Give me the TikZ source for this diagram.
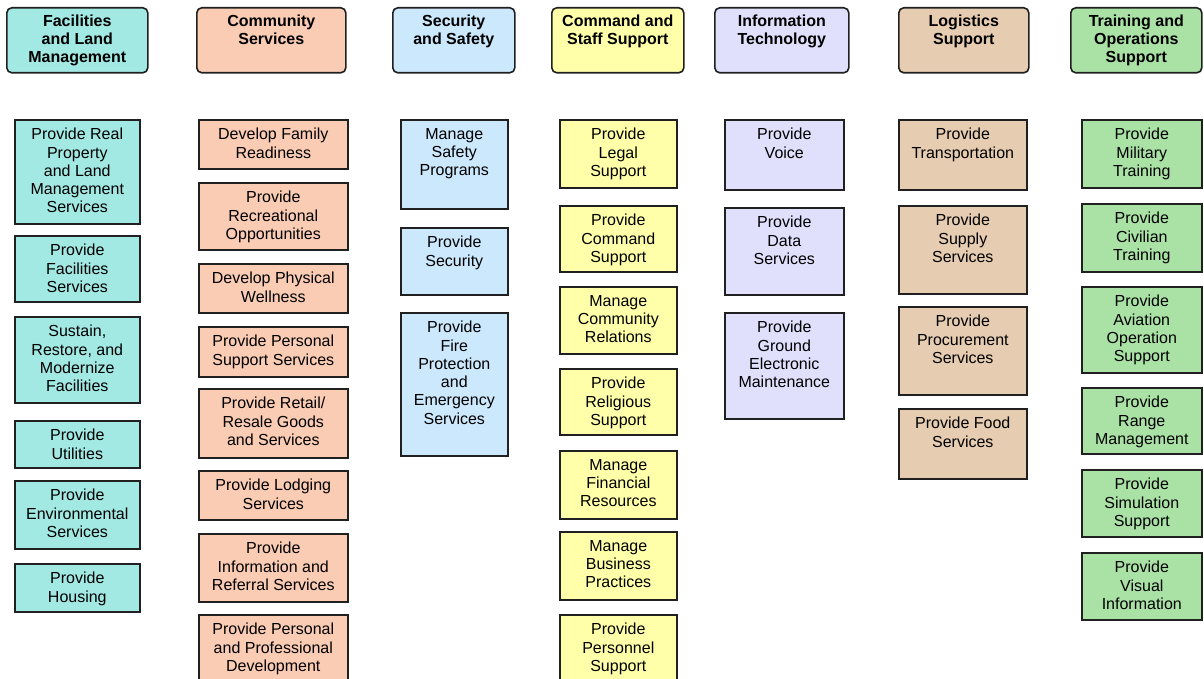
\documentclass[tikz,border=0pt]{standalone}
\usepackage{fontspec}
\setmainfont{Liberation Sans}
\usepackage{xcolor}

\definecolor{facfill}{RGB}{162,233,228}
\definecolor{comfill}{RGB}{251,204,180}
\definecolor{secfill}{RGB}{204,232,252}
\definecolor{cmdfill}{RGB}{255,255,170}
\definecolor{itfill}{RGB}{224,224,252}
\definecolor{logfill}{RGB}{230,204,176}
\definecolor{trnfill}{RGB}{170,226,166}
\definecolor{boxline}{RGB}{32,32,32}

\tikzset{
  hdr/.style={draw=boxline, line width=1.6pt, rounded corners=5pt, anchor=north west, inner sep=0pt},
  svc/.style={draw=boxline, line width=1.6pt, anchor=north west, inner sep=0pt},
  hdrtext/.style={anchor=north, align=center, inner sep=0pt, font=\bfseries\fontsize{16}{18}\selectfont},
  svctext/.style={anchor=north, align=center, inner sep=0pt, font=\fontsize{16}{18.3}\selectfont},
}

\begin{document}
\begin{tikzpicture}[x=1pt, y=-1pt]
        \useasboundingbox (0,0) rectangle (1204,679);
        \clip (0,0) rectangle (1204,679);
        % Column headers
        \foreach \nm/\xa/\xb/\col/\txt in {fac/6/147/facfill/{Facilities\\and Land\\Management},
                com/196/345/comfill/{Community\\Services},
                sec/392/514/secfill/{Security\\and Safety},
                cmd/551/683/cmdfill/{Command and\\Staff Support},
                it/714/848/itfill/{Information\\Technology},
                log/898/1028/logfill/{Logistics\\Support},
                trn/1070/1201/trnfill/{Training and\\Operations\\Support}} {
            \node[hdr, fill=\col, minimum width=\xb-\xa, minimum height=65] (\nm) at (\xa,7) {};
            \node[hdrtext] (\nm-t) at ([yshift=-8pt]\nm.north) {\txt};
        }
        % Facilities and Land Management
        \foreach \nm/\ya/\yb/\txt in {f1/119/223/{Provide Real\\Property\\and Land\\Management\\Services},
                f2/235/301/{Provide\\Facilities\\Services},
                f3/316/402/{Sustain,\\Restore, and\\Modernize\\Facilities},
                f4/420/467/{Provide\\Utilities},
                f5/480/548/{Provide\\Environmental\\Services},
                f6/563/611/{Provide\\Housing}} {
            \node[svc, fill=facfill, minimum width=125, minimum height=\yb-\ya] (\nm) at (14,\ya) {};
            \node[svctext] (\nm-t) at ([yshift=-9pt]\nm.north) {\txt};
        }
        % Community Services
        \foreach \nm/\ya/\yb/\txt in {c1/119/168/{Develop Family\\Readiness},
                c2/182/249/{Provide\\Recreational\\Opportunities},
                c3/263/312/{Develop Physical\\Wellness},
                c4/326/376/{Provide Personal\\Support Services},
                c5/388/457/{Provide Retail/\\Resale Goods\\and Services},
                c6/470/519/{Provide Lodging\\Services},
                c7/533/601/{Provide\\Information and\\Referral Services},
                c8/614/684/{Provide Personal\\and Professional\\Development}} {
            \node[svc, fill=comfill, minimum width=149, minimum height=\yb-\ya] (\nm) at (198,\ya) {};
            \node[svctext] (\nm-t) at ([yshift=-9pt]\nm.north) {\txt};
        }
        % Security and Safety
        \foreach \nm/\ya/\yb/\txt in {s1/119/208/{Manage\\Safety\\Programs},
                s2/227/294/{Provide\\Security},
                s3/312/455/{Provide\\Fire\\Protection\\and\\Emergency\\Services}} {
            \node[svc, fill=secfill, minimum width=107, minimum height=\yb-\ya] (\nm) at (400,\ya) {};
            \node[svctext] (\nm-t) at ([yshift=-9pt]\nm.north) {\txt};
        }
        % Command and Staff Support
        \foreach \nm/\ya/\yb/\txt in {m1/119/187/{Provide\\Legal\\Support},
                m2/205/271/{Provide\\Command\\Support},
                m3/286/353/{Manage\\Community\\Relations},
                m4/368/434/{Provide\\Religious\\Support},
                m5/450/518/{Manage\\Financial\\Resources},
                m6/531/599/{Manage\\Business\\Practices},
                m7/614/684/{Provide\\Personnel\\Support}} {
            \node[svc, fill=cmdfill, minimum width=117, minimum height=\yb-\ya] (\nm) at (559,\ya) {};
            \node[svctext] (\nm-t) at ([yshift=-9pt]\nm.north) {\txt};
        }
        % Information Technology
        \foreach \nm/\ya/\yb/\txt in {i1/119/189/{Provide\\Voice},
                i2/207/294/{Provide\\Data\\Services},
                i3/312/418/{Provide\\Ground\\Electronic\\Maintenance}} {
            \node[svc, fill=itfill, minimum width=119, minimum height=\yb-\ya] (\nm) at (724,\ya) {};
            \node[svctext] (\nm-t) at ([yshift=-9pt]\nm.north) {\txt};
        }
        % Logistics Support
        \foreach \nm/\ya/\yb/\txt in {l1/119/189/{Provide\\Transportation},
                l2/205/293/{Provide\\Supply\\Services},
                l3/306/394/{Provide\\Procurement\\Services},
                l4/408/478/{Provide Food\\Services}} {
            \node[svc, fill=logfill, minimum width=128, minimum height=\yb-\ya] (\nm) at (898,\ya) {};
            \node[svctext] (\nm-t) at ([yshift=-9pt]\nm.north) {\txt};
        }
        % Training and Operations Support
        \foreach \nm/\ya/\yb/\txt in {t1/119/187/{Provide\\Military\\Training},
                t2/203/271/{Provide\\Civilian\\Training},
                t3/286/372/{Provide\\Aviation\\Operation\\Support},
                t4/387/453/{Provide\\Range\\Management},
                t5/469/536/{Provide\\Simulation\\Support},
                t6/552/619/{Provide\\Visual\\Information}} {
            \node[svc, fill=trnfill, minimum width=120, minimum height=\yb-\ya] (\nm) at (1081,\ya) {};
            \node[svctext] (\nm-t) at ([yshift=-9pt]\nm.north) {\txt};
        }
    \end{tikzpicture}
\end{document}
